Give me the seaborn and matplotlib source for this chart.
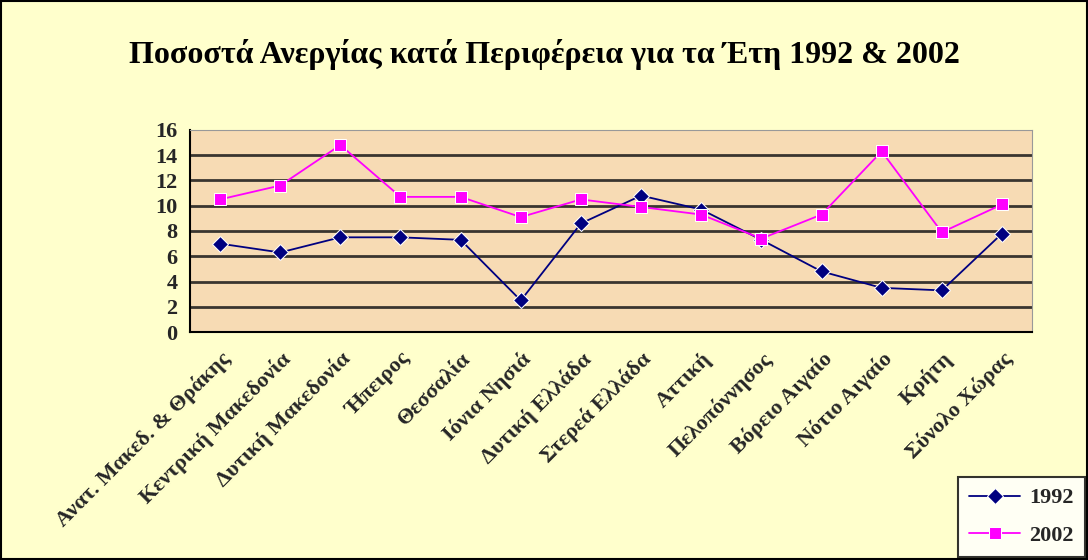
import pandas as pd
import matplotlib
matplotlib.use("Agg")
import matplotlib.pyplot as plt
import seaborn as sns

regions = ["Ανατ. Μακεδ. & Θράκης", "Κεντρική Μακεδονία", "Δυτική Μακεδονία",
           "Ήπειρος", "Θεσσαλία", "Ιόνια Νησιά", "Δυτική Ελλάδα", "Στερεά Ελλάδα",
           "Αττική", "Πελοπόννησος", "Βόρειο Αιγαίο", "Νότιο Αιγαίο", "Κρήτη",
           "Σύνολο Χώρας"]
rate_1992 = [7.0, 6.3, 7.5, 7.5, 7.3, 2.5, 8.6, 10.8, 9.7, 7.3, 4.8, 3.5, 3.3, 7.8]
rate_2002 = [10.5, 11.6, 14.8, 10.7, 10.7, 9.1, 10.5, 9.9, 9.3, 7.4, 9.3, 14.3, 7.9, 10.1]
years = ["1992", "2002"]

df = pd.DataFrame({
    "region": regions * 2,
    "rate": rate_1992 + rate_2002,
    "year": [years[0]] * len(regions) + [years[1]] * len(regions),
})

sns.set_style("white")
plt.rcParams["font.family"] = ["Liberation Serif", "DejaVu Serif"]

fig = plt.figure(figsize=(10.88, 5.6), dpi=100, facecolor="#FFFFCC")
ax = fig.add_axes([0.1746, 0.407, 0.774, 0.361])
ax.set_facecolor("#F7DBB4")

sns.lineplot(data=df, x="region", y="rate", hue="year", style="year",
             palette={"1992": "#000080", "2002": "#FF00FF"},
             markers={"1992": "D", "2002": "s"}, dashes=False,
             markersize=8, linewidth=1.3, sort=False, ax=ax)

ax.set_xlim(-0.5, len(regions) - 0.5)
ax.set_ylim(0, 16)
ax.set_yticks(range(0, 17, 2))
ax.set_yticklabels([str(v) for v in range(0, 17, 2)], fontsize=16, fontweight="bold")
for v in range(2, 16, 2):
    ax.axhline(v, color="#3a3530", lw=2, zorder=1)

ax.set_xticks(range(len(regions)))
ax.set_xticklabels(regions, rotation=45, ha="right", rotation_mode="anchor",
                   fontsize=16, fontweight="bold")
ax.tick_params(axis="x", which="major", length=0, pad=12)
ax.set_xticks([i - 0.5 for i in range(len(regions) + 1)], minor=True)
ax.tick_params(axis="x", which="minor", length=6, width=1.5, direction="out")
ax.tick_params(axis="y", length=5, width=1.5, direction="out", pad=4)
ax.set_xlabel("")
ax.set_ylabel("")

ax.spines["left"].set_color("black")
ax.spines["bottom"].set_color("black")
ax.spines["left"].set_linewidth(1.5)
ax.spines["bottom"].set_linewidth(1.5)
ax.spines["top"].set_color("#999999")
ax.spines["right"].set_color("#999999")

fig.suptitle("Ποσοστά Ανεργίας κατά Περιφέρεια για τα Έτη 1992 & 2002",
             x=0.5, y=0.93, fontsize=23, fontweight="bold", color="black")

ax.legend_.remove()
handles, labels = ax.get_legend_handles_labels()
leg = fig.legend(handles, labels, loc="lower right", bbox_to_anchor=(0.997, 0.006),
                 borderaxespad=0, frameon=True, fancybox=False, edgecolor="black",
                 prop={"size": 16, "weight": "bold"}, handlelength=2.3,
                 handletextpad=0.4, borderpad=0.5, labelspacing=0.75)
leg.get_frame().set_linewidth(1.5)

fig.patches.append(plt.Rectangle((0.001, 0.001), 0.998, 0.998, transform=fig.transFigure,
                                 fill=False, edgecolor="black", lw=1.5))

fig.savefig("out.png", dpi=100, facecolor=fig.get_facecolor())
